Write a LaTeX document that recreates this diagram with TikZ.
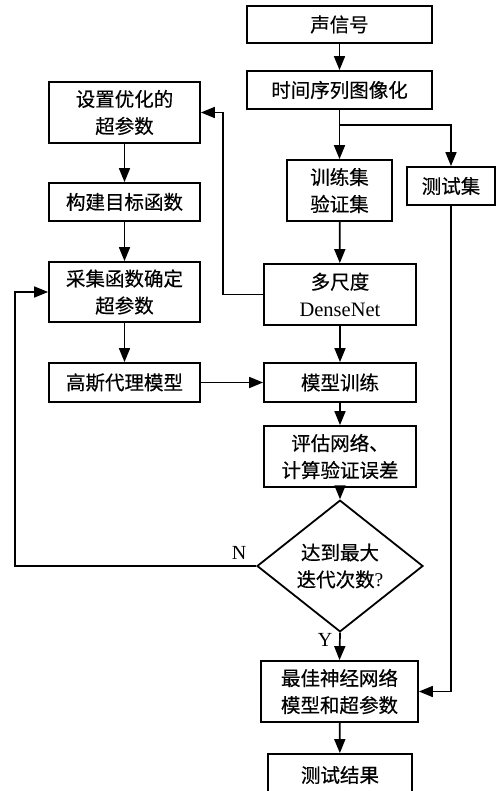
\documentclass[tikz,border=0pt]{standalone}
\usepackage{fontspec}
\setmainfont{Liberation Serif}
\newfontfamily\cjk{Noto Sans CJK SC}[FakeBold=0.4]
\usetikzlibrary{shapes.geometric,arrows.meta}
\begin{document}
\begin{tikzpicture}[x=1pt,y=-1pt,
  box/.style={draw, line width=1.8pt, inner sep=0pt, align=center, font=\cjk\fontsize{19.5}{27}\selectfont},
  conn/.style={line width=1.7pt, -{Triangle[length=14pt,width=11pt]}},
  wire/.style={line width=1.7pt},
  lbl/.style={inner sep=0pt, font=\rmfamily\fontsize{20}{22}\selectfont}]
\useasboundingbox (0,0) rectangle (495,791);
\fill[white] (0,0) rectangle (495,791);
% right column
\node[box, minimum width=185pt, minimum height=37pt] (s1) at (339.5,24.5) {声信号};
\node[box, minimum width=185pt, minimum height=38pt] (s2) at (339.5,90) {时间序列图像化};
\node[box, minimum width=105pt, minimum height=61pt] (t1) at (339.5,190.5) {训练集\\验证集};
\node[box, minimum width=88pt, minimum height=38pt] (t2) at (451,186) {测试集};
\node[box, minimum width=152pt, minimum height=61pt] (d1) at (340,294.5) {多尺度\\{\rmfamily\fontsize{20.5}{27}\selectfont DenseNet}};
\node[box, minimum width=152pt, minimum height=39pt] (m1) at (340,382.5) {模型训练};
\node[box, minimum width=152pt, minimum height=61pt] (e1) at (340,456.5) {评估网络、\\计算验证误差};
\node[box, diamond, minimum width=166pt, minimum height=107pt] (dia) at (340,566) {达到最大\\迭代次数{\rmfamily ?}};
\node[box, minimum width=157pt, minimum height=61pt] (b1) at (339.5,691.5) {最佳神经网络\\模型和超参数};
\node[box, minimum width=144pt, minimum height=42pt] (r1) at (340,775) {测试结果};
% left column
\node[box, minimum width=151pt, minimum height=61pt] (a1) at (124.5,112.5) {设置优化的\\超参数};
\node[box, minimum width=151pt, minimum height=38pt] (a2) at (124.5,202) {构建目标函数};
\node[box, minimum width=151pt, minimum height=60pt] (a3) at (124.5,292) {采集函数确定\\超参数};
\node[box, minimum width=151pt, minimum height=39pt] (a4) at (124.5,382.5) {高斯代理模型};
% labels
\node[lbl] (nl) at (239,553) {N};
\node[lbl] (yl) at (325,640) {Y};
% connectors
\coordinate (br) at (339.5,125);
\coordinate (lp) at (15,566);
\draw[conn] (s1) -- (s2);
\draw[wire] (s2.south) -- (br);
\draw[conn] (br) -- (t1.north);
\draw[conn] (br) -| (t2.north);
\draw[conn] (t1) -- (d1);
\draw[conn] (d1.west) -- ++(-40,0) |- (a1.east);
\draw[conn] (a1) -- (a2);
\draw[conn] (a2) -- (a3);
\draw[conn] (a3) -- (a4);
\draw[conn] (a4) -- (m1);
\draw[conn] (d1) -- (m1);
\draw[conn] (m1) -- (e1);
\draw[conn] (e1) -- (dia);
\draw[conn] (dia.west) -- (lp) |- (a3.west);
\draw[conn] (dia.south) -- (b1.north);
\draw[conn] (t2.south) |- (b1.east);
\draw[conn] (b1) -- (r1);
\end{tikzpicture}
\end{document}
